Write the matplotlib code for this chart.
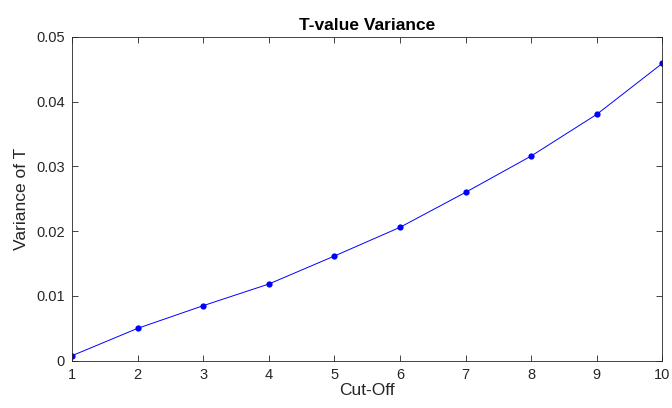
import numpy as np
import matplotlib
matplotlib.use("Agg")
import matplotlib.pyplot as plt

# values
cutoff = [1, 2, 3, 4, 5, 6, 7, 8, 9, 10]
variance_t = [0.00077, 0.00499, 0.00849, 0.01183, 0.01615,
              0.02058, 0.02598, 0.03158, 0.03801, 0.04588]
y_ticks = [0, 0.01, 0.02, 0.03, 0.04, 0.05]
y_tick_labels = ['0', '0.01', '0.02', '0.03', '0.04', '0.05']

plt.rcParams['font.family'] = ['Liberation Sans', 'DejaVu Sans']
grey = (0.15, 0.15, 0.15)

fig = plt.figure(figsize=(6.72, 4.08), dpi=100)
ax = fig.add_axes([72 / 672, 1 - 360.7 / 408, 590.3 / 672, 324 / 408])

ax.plot(cutoff, variance_t, color=(0, 0, 1), linewidth=0.7,
        marker='o', markersize=4.5, markeredgewidth=0)

ax.set_xlim(1, 10)
ax.set_ylim(0, 0.05)
ax.set_xticks(cutoff)
ax.set_yticks(y_ticks)
ax.set_yticklabels(y_tick_labels)

ax.tick_params(direction='in', top=True, right=True, length=4, width=0.6,
               colors=grey, labelsize=10.5, pad=5)
for s in ax.spines.values():
    s.set_color(grey)
    s.set_linewidth(0.6)

ax.set_xlabel('Cut-Off', fontsize=12.5, color=grey, labelpad=1)
ax.set_ylabel('Variance of T', fontsize=12.5, color=grey, labelpad=5)
ax.set_title('T-value Variance', fontsize=12.5, fontweight='bold', color='black', pad=5)

fig.savefig('out.png', dpi=100)
